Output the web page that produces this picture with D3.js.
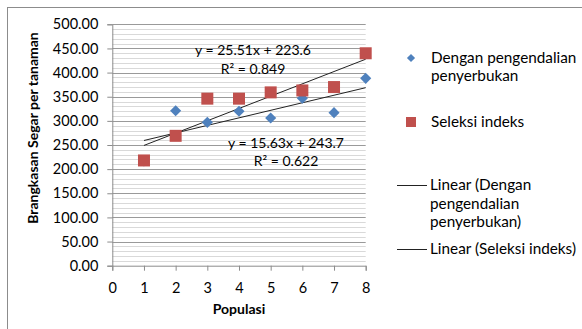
<!DOCTYPE html>
<html>
<head>
<meta charset="utf-8">
<script src="https://cdn.jsdelivr.net/npm/d3@7"></script>
<style>
  html, body { margin: 0; padding: 0; background: #fff; }
  svg { display: block; font-family: Lato, "Open Sans", sans-serif; }
</style>
</head>
<body>
<svg id="chart" width="582" height="329"></svg>
<script>
// Populasi 1..8
const populasi = [1, 2, 3, 4, 5, 6, 7, 8];
// Brangkasan segar per tanaman
const denganPengendalian = [217, 321, 297, 320, 306, 347, 317, 388];
const seleksiIndeks = [218, 269, 346, 346, 359, 363, 370, 440];
// Linear trend coefficients: [slope, intercept, R²]
const trendDengan = [15.63, 243.7, 0.622];
const trendSeleksi = [25.51, 223.6, 0.849];
const xTicks = [0, 1, 2, 3, 4, 5, 6, 7, 8];
const yTicks = [0, 50, 100, 150, 200, 250, 300, 350, 400, 450, 500];

const blue = "#4F81BD", red = "#C0504D";
const svg = d3.select("#chart");

// chart-area border
svg.append("rect").attr("x", 7.5).attr("y", 7.5).attr("width", 620).attr("height", 360)
  .attr("fill", "none").attr("stroke", "#8c8c8c").attr("stroke-width", 1);

const x = d3.scaleLinear().domain([0, 8]).range([112.3, 365.7]);
const y = d3.scaleLinear().domain([0, 500]).range([265.7, 24.3]);

// minor gridlines every 10
svg.append("g").selectAll("line").data(d3.range(0, 501, 10).filter(v => v % 50 !== 0))
  .join("line")
  .attr("x1", x(0)).attr("x2", x(8))
  .attr("y1", d => Math.round(y(d)) + 0.5).attr("y2", d => Math.round(y(d)) + 0.5)
  .attr("stroke", "#d9d9d9");
// major gridlines every 50
svg.append("g").selectAll("line").data(yTicks.filter(v => v > 0))
  .join("line")
  .attr("x1", x(0)).attr("x2", x(8))
  .attr("y1", d => Math.round(y(d)) + 0.5).attr("y2", d => Math.round(y(d)) + 0.5)
  .attr("stroke", "#9a9a9a");

// axes
const yAxis = d3.axisLeft(y).tickValues(yTicks).tickFormat(d3.format(".2f")).tickSize(5).tickPadding(9);
const gy = svg.append("g").attr("transform", `translate(${x(0)},0)`).call(yAxis);
const xAxis = d3.axisBottom(x).tickValues(xTicks).tickFormat(d3.format("d")).tickSize(5).tickPadding(12);
const gx = svg.append("g").attr("transform", `translate(0,${y(0)})`).call(xAxis);
[gx, gy].forEach(g => {
  g.select(".domain").attr("stroke", "#8c8c8c");
  g.selectAll(".tick line").attr("stroke", "#8c8c8c");
  g.selectAll("text").attr("fill", "#000").style("font-size", "14.5px")
    .style("font-family", "Lato, sans-serif");
});

// trend lines from the stated coefficients
[trendDengan, trendSeleksi].forEach(t => {
  svg.append("line")
    .attr("x1", x(1)).attr("y1", y(t[0] * 1 + t[1]))
    .attr("x2", x(8)).attr("y2", y(t[0] * 8 + t[1]))
    .attr("stroke", "#222").attr("stroke-width", 1);
});

// series markers
svg.append("g").selectAll("path").data(populasi)
  .join("path")
  .attr("d", d3.symbol().type(d3.symbolSquare).size(62))
  .attr("transform", (d, i) => `translate(${x(d)},${y(denganPengendalian[i])}) rotate(45)`)
  .attr("fill", blue);
svg.append("g").selectAll("rect").data(populasi)
  .join("rect")
  .attr("x", d => x(d) - 6).attr("y", (d, i) => y(seleksiIndeks[i]) - 6)
  .attr("width", 12).attr("height", 12)
  .attr("fill", red);

// trend equations
const eqFmt = t => `y = ${t[0].toFixed(2)}x + ${t[1].toFixed(1)}`;
const labelStyle = s => s.attr("text-anchor", "middle").style("font-size", "14px").attr("fill", "#000");
svg.append("text").attr("x", 253).attr("y", 55).text(eqFmt(trendSeleksi)).call(labelStyle);
svg.append("text").attr("x", 253).attr("y", 74).text(`R² = ${trendSeleksi[2].toFixed(3)}`).call(labelStyle);
svg.append("text").attr("x", 286).attr("y", 148).text(eqFmt(trendDengan)).call(labelStyle);
svg.append("text").attr("x", 286).attr("y", 166).text(`R² = ${trendDengan[2].toFixed(3)}`).call(labelStyle);

// axis titles
svg.append("text").attr("x", 239).attr("y", 314).attr("text-anchor", "middle")
  .style("font-size", "14px").style("font-weight", "bold").text("Populasi");
svg.append("text").attr("transform", "translate(38,128) rotate(-90)").attr("text-anchor", "middle")
  .style("font-size", "14px").style("font-weight", "bold").text("Brangkasan Segar per tanaman");

// legend
const lg = svg.append("g").style("font-size", "15.3px");
lg.append("path").attr("d", d3.symbol().type(d3.symbolSquare).size(34))
  .attr("transform", "translate(411,58) rotate(45)").attr("fill", blue);
lg.append("text").attr("x", 431).attr("y", 63).text("Dengan pengendalian");
lg.append("text").attr("x", 431).attr("y", 81).text("penyerbukan");
lg.append("rect").attr("x", 406).attr("y", 117).attr("width", 10).attr("height", 10).attr("fill", red);
lg.append("text").attr("x", 431).attr("y", 127).text("Seleksi indeks");
lg.append("line").attr("x1", 397).attr("x2", 427).attr("y1", 185.5).attr("y2", 185.5).attr("stroke", "#222");
lg.append("text").attr("x", 430).attr("y", 190).text("Linear (Dengan");
lg.append("text").attr("x", 430).attr("y", 209).text("pengendalian");
lg.append("text").attr("x", 430).attr("y", 227).text("penyerbukan)");
lg.append("line").attr("x1", 397).attr("x2", 427).attr("y1", 249.5).attr("y2", 249.5).attr("stroke", "#222");
lg.append("text").attr("x", 430).attr("y", 254).text("Linear (Seleksi indeks)");
</script>
</body>
</html>
